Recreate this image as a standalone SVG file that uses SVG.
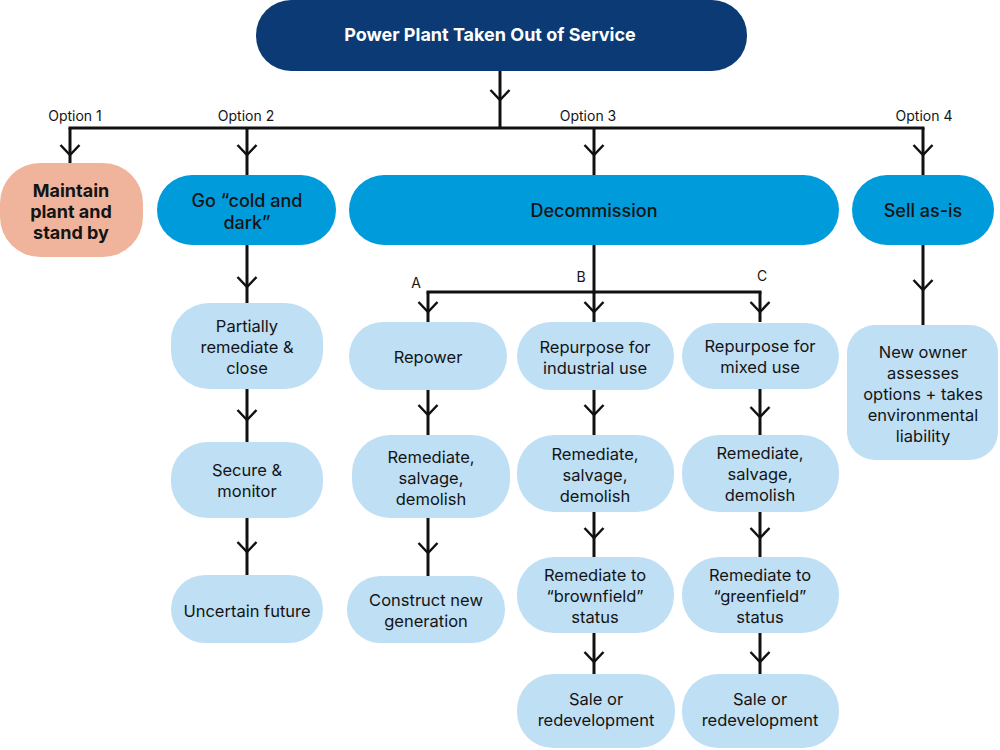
<svg xmlns="http://www.w3.org/2000/svg" width="1000" height="750" viewBox="0 0 1000 750">
<defs>
<style>
text{font-family:Inter,"Open Sans","Liberation Sans",Arial,sans-serif;text-anchor:middle;fill:#141414}
.t17{font-size:16.5px}
.t18{font-size:18px;font-weight:500}
.b18{font-size:18px;font-weight:700}
.lbl{font-size:14px}
.top{fill:#0b3a74}
.mid{fill:#009bdb}
.lt{fill:#bfdff5}
.sal{fill:#f0b49c}
.ln{fill:none;stroke:#111;stroke-width:3;marker-mid:url(#chev)}
.bus{fill:none;stroke:#111;stroke-width:3;stroke-linecap:square}
</style>
<marker id="chev" markerUnits="userSpaceOnUse" orient="auto" markerWidth="30" markerHeight="30" refX="0" refY="0" viewBox="-15 -15 30 30" overflow="visible">
<path d="M-10,-9.5 L0,0 L-10,9.5" fill="none" stroke="#111" stroke-width="2.5"/>
</marker>
</defs>
<rect width="1000" height="750" fill="#ffffff"/>
<g id="connectors">
<polyline class="ln" points="500,71 500,100 500,128"/>
<path class="bus" d="M70,128 H923"/>
<polyline class="ln" points="70,128 70,155 70,163"/>
<polyline class="ln" points="247,128 247,155 247,175"/>
<polyline class="ln" points="594,128 594,155 594,175"/>
<polyline class="ln" points="923,128 923,155 923,175"/>
<polyline class="ln" points="247,245 247,287 247,303"/>
<polyline class="ln" points="247,389 247,420 247,442"/>
<polyline class="ln" points="247,518 247,552 247,575"/>
<path class="bus" d="M594,245 V292"/>
<path class="bus" d="M428,292 H760"/>
<polyline class="ln" points="428,292 428,312 428,322"/>
<polyline class="ln" points="594,292 594,312 594,322"/>
<polyline class="ln" points="760,292 760,312 760,322"/>
<polyline class="ln" points="428,390 428,415 428,435"/>
<polyline class="ln" points="428,518 428,553 428,576"/>
<polyline class="ln" points="594,390 594,415 594,435"/>
<polyline class="ln" points="594,512 594,538 594,557"/>
<polyline class="ln" points="594,633 594,662 594,674"/>
<polyline class="ln" points="760,389 760,417 760,435"/>
<polyline class="ln" points="760,512 760,538 760,557"/>
<polyline class="ln" points="760,633 760,662 760,674"/>
<polyline class="ln" points="923,245 923,290 923,325"/>
</g>
<g id="labels">
<text class="lbl" x="75" y="121">Option 1</text>
<text class="lbl" x="246" y="121">Option 2</text>
<text class="lbl" x="588" y="121">Option 3</text>
<text class="lbl" x="924" y="121">Option 4</text>
<text class="lbl" x="416" y="288">A</text>
<text class="lbl" x="581" y="282">B</text>
<text class="lbl" x="762" y="281">C</text>
</g>
<g id="n-top"><rect class="top" x="256" y="0" width="491" height="71" rx="35"/><text class="b18" x="490" y="41" style="fill:#ffffff">Power Plant Taken Out of Service</text></g>
<g id="n-maintain"><rect class="sal" x="0" y="163" width="143" height="94" rx="40"/><text class="b18" x="71" y="197">Maintain</text><text class="b18" x="71" y="218">plant and</text><text class="b18" x="71" y="239">stand by</text></g>
<g id="n-cold"><rect class="mid" x="157" y="175" width="179" height="70" rx="35"/><text class="t18" x="247" y="207">Go “cold and</text><text class="t18" x="247" y="229">dark”</text></g>
<g id="n-decom"><rect class="mid" x="349" y="175" width="490" height="70" rx="35"/><text class="t18" x="594" y="217">Decommission</text></g>
<g id="n-sell"><rect class="mid" x="852" y="175" width="142" height="70" rx="35"/><text class="t18" x="923" y="217">Sell as-is</text></g>
<g id="n-partial"><rect class="lt" x="171" y="303" width="152" height="86" rx="38"/><text class="t17" x="247" y="332">Partially</text><text class="t17" x="247" y="353">remediate &amp;</text><text class="t17" x="247" y="374">close</text></g>
<g id="n-secure"><rect class="lt" x="171" y="442" width="152" height="76" rx="36"/><text class="t17" x="247" y="476">Secure &amp;</text><text class="t17" x="247" y="497">monitor</text></g>
<g id="n-uncertain"><rect class="lt" x="171" y="575" width="152" height="68" rx="34"/><text class="t17" x="247" y="617">Uncertain future</text></g>
<g id="n-repower"><rect class="lt" x="349" y="322" width="158" height="68" rx="34"/><text class="t17" x="428" y="363">Repower</text></g>
<g id="n-remA"><rect class="lt" x="352" y="435" width="158" height="83" rx="38"/><text class="t17" x="431" y="463">Remediate,</text><text class="t17" x="431" y="484">salvage,</text><text class="t17" x="431" y="505">demolish</text></g>
<g id="n-construct"><rect class="lt" x="347" y="576" width="158" height="67" rx="33"/><text class="t17" x="426" y="606">Construct new</text><text class="t17" x="426" y="627">generation</text></g>
<g id="n-repB"><rect class="lt" x="517" y="322" width="157" height="68" rx="34"/><text class="t17" x="595" y="353">Repurpose for</text><text class="t17" x="595" y="374">industrial use</text></g>
<g id="n-remB"><rect class="lt" x="517" y="435" width="157" height="77" rx="37"/><text class="t17" x="595" y="460">Remediate,</text><text class="t17" x="595" y="481">salvage,</text><text class="t17" x="595" y="502">demolish</text></g>
<g id="n-brown"><rect class="lt" x="517" y="557" width="157" height="76" rx="37"/><text class="t17" x="595" y="581">Remediate to</text><text class="t17" x="595" y="602">“brownfield”</text><text class="t17" x="595" y="623">status</text></g>
<g id="n-saleB"><rect class="lt" x="517" y="674" width="158" height="74" rx="36"/><text class="t17" x="596" y="705">Sale or</text><text class="t17" x="596" y="726">redevelopment</text></g>
<g id="n-repC"><rect class="lt" x="682" y="323" width="157" height="66" rx="33"/><text class="t17" x="760" y="352">Repurpose for</text><text class="t17" x="760" y="373">mixed use</text></g>
<g id="n-remC"><rect class="lt" x="682" y="435" width="157" height="77" rx="37"/><text class="t17" x="760" y="459">Remediate,</text><text class="t17" x="760" y="480">salvage,</text><text class="t17" x="760" y="501">demolish</text></g>
<g id="n-green"><rect class="lt" x="682" y="557" width="157" height="76" rx="37"/><text class="t17" x="760" y="581">Remediate to</text><text class="t17" x="760" y="602">“greenfield”</text><text class="t17" x="760" y="623">status</text></g>
<g id="n-saleC"><rect class="lt" x="682" y="674" width="157" height="74" rx="36"/><text class="t17" x="760" y="705">Sale or</text><text class="t17" x="760" y="726">redevelopment</text></g>
<g id="n-owner"><rect class="lt" x="847" y="325" width="151" height="135" rx="28"/><text class="t17" x="923" y="358">New owner</text><text class="t17" x="923" y="379">assesses</text><text class="t17" x="923" y="400">options + takes</text><text class="t17" x="923" y="421">environmental</text><text class="t17" x="923" y="442">liability</text></g>
</svg>
